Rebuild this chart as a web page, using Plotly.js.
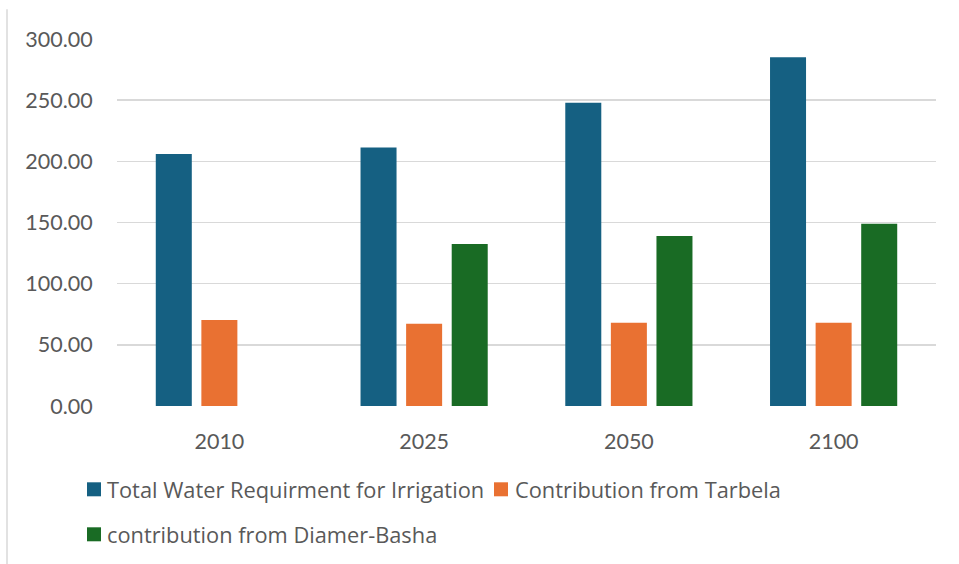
<!DOCTYPE html>
<html>
<head>
<meta charset="utf-8">
<script src="https://cdn.plot.ly/plotly-3.0.1.min.js"></script>
<style>
  html, body { margin: 0; padding: 0; background: #ffffff; }
  #chart { width: 959px; height: 564px; }
</style>
</head>
<body>
<div id="chart"></div>
<script>
// Water requirement for irrigation vs. reservoir contributions
const years = ["2010", "2025", "2050", "2100"];
const seriesNames = [
  "Total Water Requirment for Irrigation",
  "Contribution from Tarbela",
  "contribution from Diamer-Basha"
];
const totalRequirement = [205.9, 211.4, 247.9, 285.1];
const tarbela = [70.3, 67.3, 68.1, 68.1];
const diamerBasha = [null, 132.4, 138.9, 149.0];
const yTickValues = [0, 50, 100, 150, 200, 250, 300];

const colors = ["#156082", "#E97132", "#196B24"];
const textColor = "#595959";
const fontFamily = "Lato, 'Liberation Sans', Arial, sans-serif";
const legendFont = "'Open Sans', 'Liberation Sans', Arial, sans-serif";

// plot-area geometry in pixels
const W = 959, H = 564;
const plotL = 117, plotR = 936, plotT = 38.7, plotB = 405.7;
const plotW = plotR - plotL, plotH = plotB - plotT;
const px = x => (x - plotL) / plotW;
const py = y => (plotB - y) / plotH;

const values = [totalRequirement, tarbela, diamerBasha];
const traces = values.map((v, i) => ({
  type: "bar",
  name: seriesNames[i],
  x: years,
  y: v,
  marker: { color: colors[i], line: { width: 0 } },
  hoverinfo: "x+y+name"
}));

// hand-placed legend: colour square + label
const legendItems = [
  { sx: 87, tx: 105, cy: 489 },
  { sx: 494, tx: 513, cy: 489 },
  { sx: 87, tx: 105, cy: 534 }
];
const shapes = [
  // light chart border on the left
  {
    type: "line", xref: "paper", yref: "paper",
    x0: px(7), x1: px(7), y0: py(564), y1: py(9),
    line: { color: "#d9d9d9", width: 1.5 }
  }
];
const annotations = [];
legendItems.forEach((it, i) => {
  shapes.push({
    type: "rect", xref: "paper", yref: "paper",
    x0: px(it.sx), x1: px(it.sx + 14),
    y0: py(it.cy + 7), y1: py(it.cy - 7),
    fillcolor: colors[i], line: { width: 0 }
  });
  annotations.push({
    xref: "paper", yref: "paper",
    x: px(it.tx), y: py(it.cy),
    xanchor: "left", yanchor: "middle",
    text: seriesNames[i], showarrow: false,
    font: { family: legendFont, size: 21.8, color: textColor }
  });
});

const layout = {
  width: W, height: H,
  margin: { l: plotL, r: W - plotR, t: plotT, b: H - plotB, pad: 0 },
  paper_bgcolor: "#ffffff",
  plot_bgcolor: "#ffffff",
  barmode: "group",
  bargap: 0.332,
  bargroupgap: 0.21,
  showlegend: false,
  font: { family: fontFamily, size: 21, color: textColor },
  xaxis: {
    type: "category",
    showgrid: false, zeroline: false, showline: false,
    ticks: "outside", ticklen: 16, tickcolor: "rgba(0,0,0,0)",
    tickfont: { family: fontFamily, size: 21.5, color: textColor }
  },
  yaxis: {
    range: [0, 300],
    tickvals: yTickValues,
    tickformat: ".2f",
    showgrid: true, gridcolor: "#d9d9d9", gridwidth: 1.5,
    zeroline: false, showline: false,
    ticks: "outside", ticklen: 19, tickcolor: "rgba(0,0,0,0)",
    tickfont: { family: fontFamily, size: 21.5, color: textColor }
  },
  shapes: shapes,
  annotations: annotations
};

Plotly.newPlot("chart", traces, layout, { displayModeBar: false, staticPlot: true });
</script>
</body>
</html>
